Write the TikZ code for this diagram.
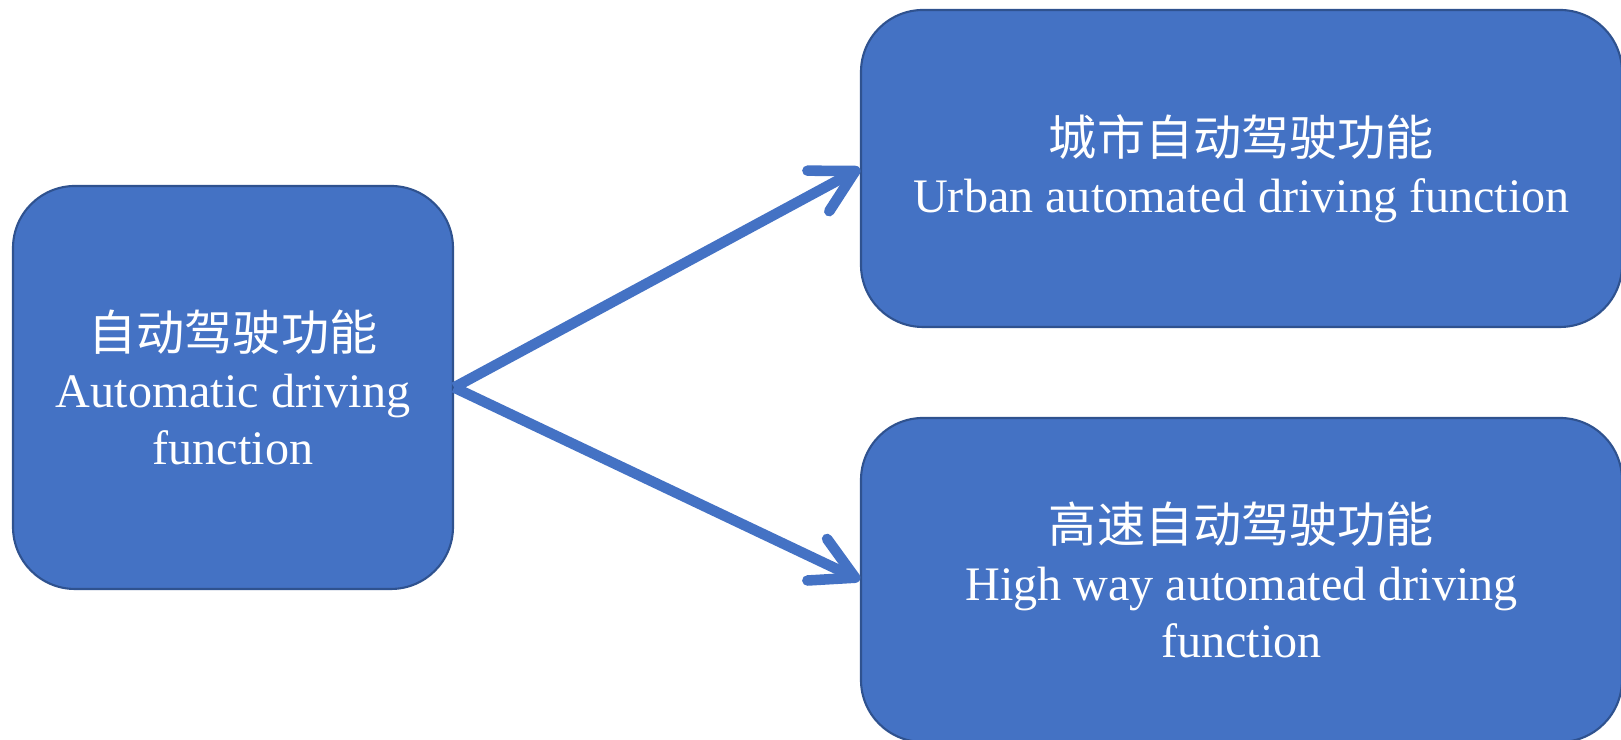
\documentclass[tikz,border=0pt]{standalone}
\usepackage{fontspec}
\setmainfont{Liberation Serif}
\newfontfamily\cjk{Noto Sans CJK SC}
\usepackage{tikz}
\usetikzlibrary{positioning,arrows.meta}

\definecolor{boxblue}{HTML}{4472C4}
\definecolor{boxedge}{HTML}{2F528F}

\tikzset{
	funcbox/.style={rectangle,rounded corners=.62cm,fill=boxblue,draw=boxedge,line width=.6pt,
		text=white,align=center,inner sep=0pt,font=\fontsize{13.7}{16.3}\selectfont},
	flow/.style={draw=boxblue,line width=3pt,-{Straight Barb[length=4.2mm,width=4.6mm,round]}}
}

\begin{document}
\begin{tikzpicture}
			\useasboundingbox (0,0) rectangle (16.21,7.40);

			%left node
			\node [funcbox,minimum width=4.40cm,minimum height=4.03cm] (auto) at (2.33,3.525)
				{{\cjk 自动驾驶功能}\\Automatic driving\\function};

			%right nodes
			\node [funcbox,minimum width=7.61cm,minimum height=3.17cm] (urban) at (12.415,5.715)
				{{\cjk 城市自动驾驶功能}\\Urban automated driving function};
			\node [funcbox,minimum width=7.61cm,minimum height=3.24cm] (highway) at (12.415,1.60)
				{{\cjk 高速自动驾驶功能}\\High way automated driving\\function};

			%arrows
			\draw [flow] (auto.east) -- (urban.west);
			\draw [flow] (auto.east) -- (highway.west);
		\end{tikzpicture}
\end{document}
